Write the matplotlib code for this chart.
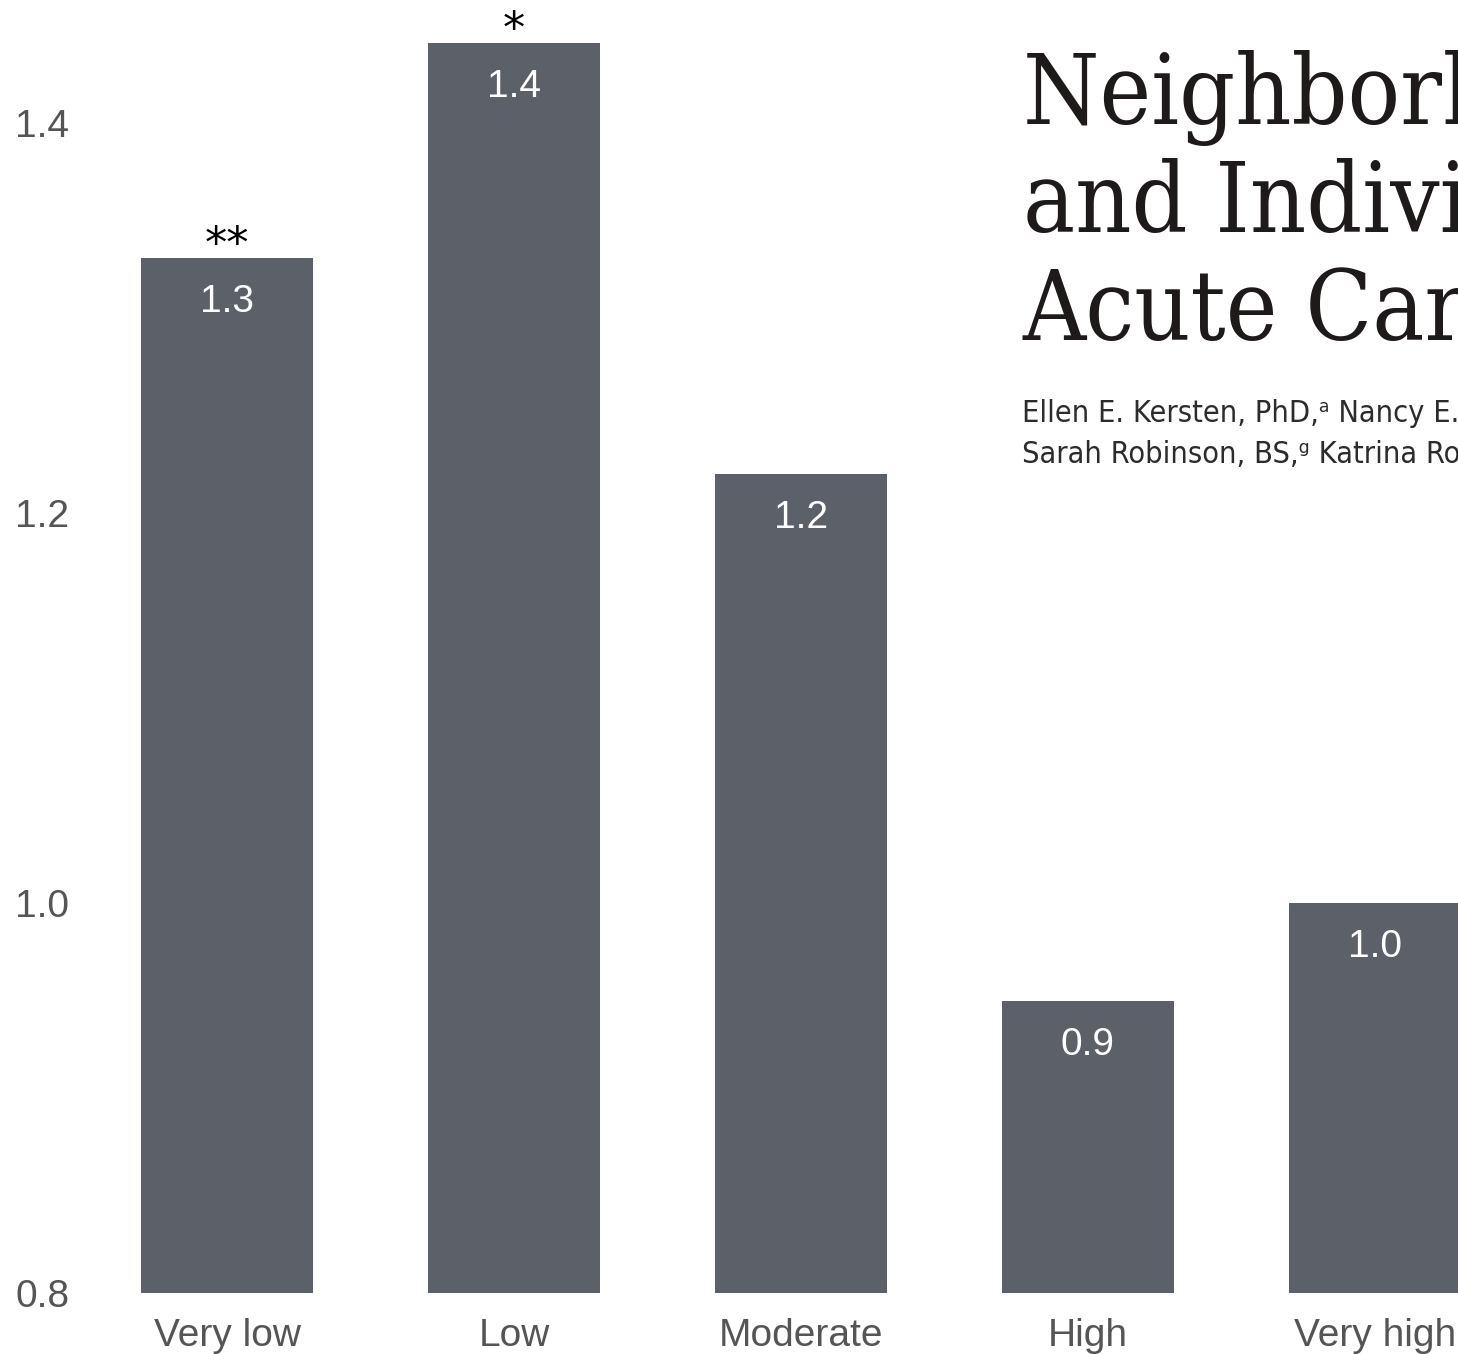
import matplotlib
matplotlib.use("Agg")
import matplotlib.pyplot as plt

categories = ["Very low", "Low", "Moderate", "High", "Very high"]
values = [1.331, 1.441, 1.220, 0.950, 1.000]
value_labels = ["1.3", "1.4", "1.2", "0.9", "1.0"]
stars = ["**", "*", "", "", ""]
yticks = [0.8, 1.0, 1.2, 1.4]
ytick_labels = ["0.8", "1.0", "1.2", "1.4"]

title_lines = ["Neighborhood Child Opportunity",
               "and Individual-Level Pediatric",
               "Acute Care Use and Diagnoses"]
author_lines = ["Ellen E. Kersten, PhD,\u1d43 Nancy E. Adler, PhD,\u1d47 Laura Gottlieb, MD, MPH,",
                "Sarah Robinson, BS,\u1d4d Katrina Roundfield, PhD,"]

BAR = "#5c6069"
TICK = "#555555"

W, H = 1458, 1354
fig = plt.figure(figsize=(W / 100, H / 100), dpi=100)
plt.rcParams['font.family'] = ['Liberation Sans', 'DejaVu Sans']

ax = fig.add_axes([0, (H - 1293) / H, 1, 1293 / H])
x = list(range(len(categories)))
ax.bar(x, [v - 0.8 for v in values], bottom=0.8, width=0.6, color=BAR, zorder=2)
ax.set_xlim(-227 / 287, (W - 227) / 287)
ax.set_ylim(0.8, 0.8 + 1293 / 1950)
for s in ax.spines.values():
    s.set_visible(False)
ax.set_facecolor("none")

ax.set_xticks(x)
ax.set_xticklabels(categories, fontsize=28, color=TICK)
ax.tick_params(axis='x', length=0, pad=18)

ax.set_yticks(yticks)
ax.set_yticklabels(ytick_labels, fontsize=28, color=TICK)
ax.tick_params(axis='y', length=0, pad=-11)
for lbl in ax.get_yticklabels():
    lbl.set_ha('left')

for xi, v, lab, st in zip(x, values, value_labels, stars):
    ax.annotate(lab, (xi, v), xytext=(0, -39), textcoords='offset points',
                ha='center', va='baseline', fontsize=28, color='white')
    if st:
        ax.annotate(st, (xi, v), xytext=(0, 0), textcoords='offset points',
                    ha='center', va='baseline', fontsize=32, color='black',
                    family=['DejaVu Sans'])

# overlaid title block
baselines = [124, 232, 340]
for line, yb in zip(title_lines, baselines):
    fig.text(1023 / W, 1 - yb / H, line, fontsize=70, family=['DejaVu Serif'],
             fontstretch='condensed', color='#1e1a1a', ha='left', va='baseline')
for line, yb in zip(author_lines, [422, 463]):
    fig.text(1022 / W, 1 - yb / H, line, fontsize=22,
             family=['DejaVu Sans'], fontstretch='condensed',
             color='#2e2b2b', ha='left', va='baseline')

fig.savefig("out.png", dpi=100)
